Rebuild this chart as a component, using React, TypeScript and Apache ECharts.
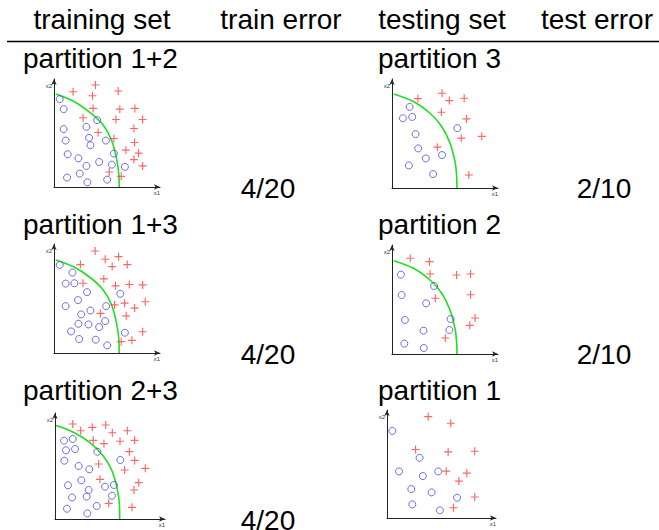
import React, { useEffect, useRef } from "react";
import * as echarts from "echarts";

// ---------- table texts ----------
const headers = ["training set", "train error", "testing set", "test error"];
const trainSets = ["partition 1+2", "partition 1+3", "partition 2+3"];
const testSets = ["partition 3", "partition 2", "partition 1"];
const trainErrors = ["4/20", "4/20", "4/20"];
const testErrors = ["2/10", "2/10"];
const axisNames = ["x1", "x2"];

// ---------- plot 1 (train: partition 1+2) ----------
const p1Circles = [
  [0.54, 8.14], [0.91, 7.21], [4.07, 6.19], [3.06, 5.57], [0.91, 5.36],
  [1.1, 4.3], [3.31, 4.55], [3.44, 3.87], [4.89, 4.3], [5.65, 3.1],
  [1.29, 3.03], [2.3, 2.66], [3.06, 1.95], [4.26, 2.32], [5.46, 2.07],
  [6.69, 1.86], [1.23, 0.87], [2.43, 1.24], [3.15, 0.43], [5.02, 0.68],
];
const p1Crosses = [
  [3.91, 9.44], [1.8, 8.82], [3.63, 8.45], [6.06, 8.89], [3.69, 7.28],
  [6.21, 7.21], [7.63, 7.28], [2.74, 6.41], [5.84, 6.25], [8.36, 6.25],
  [4.16, 5.05], [7.54, 5.42], [5.65, 4.49], [7.6, 4.12], [6.78, 3.41],
  [7.98, 3.13], [7.54, 2.54], [8.36, 1.95], [5.21, 1.39], [6.34, 0.99],
];
const p1Boundary = [
  [0.16, 8.61], [1.8, 7.96], [3.38, 6.9], [4.64, 5.73], [5.43, 4.33],
  [5.9, 2.63], [6.12, 1.08], [6.15, 0],
];

// ---------- plot 2 (test: partition 3) ----------
const p2Circles = [
  [1.66, 7.44], [1.03, 6.4], [1.91, 6.52], [2.22, 4.94], [6.16, 5.49],
  [2.47, 3.63], [4.72, 3.02], [3.19, 2.71], [1.59, 2.07], [3.88, 1.28],
];
const p2Crosses = [
  [2.44, 8.2], [4.72, 8.69], [5.41, 8.02], [6.81, 8.23], [4.66, 6.95],
  [7.03, 6.34], [6.53, 4.57], [8.47, 4.73], [4.28, 3.75], [7.25, 1.19],
];
const p2Boundary = [
  [0.16, 8.63], [2.03, 7.93], [3.59, 6.86], [4.69, 5.64], [5.47, 4.12],
  [5.94, 2.44], [6.09, 1.22], [6.13, 0],
];

// ---------- plot 3 (train: partition 1+3) ----------
const p3Circles = [
  [0.54, 8.08], [1.74, 7.38], [1.1, 6.37], [1.92, 6.4], [3.12, 5.58],
  [6.25, 5.43], [2.27, 4.85], [1.1, 4.3], [3.44, 3.9], [4.92, 4.3],
  [2.56, 3.54], [4.83, 2.93], [2.3, 2.68], [3.25, 2.62], [4.26, 2.38],
  [1.61, 1.98], [6.69, 1.86], [2.37, 1.28], [3.94, 1.22], [5.02, 0.7],
];
const p3Crosses = [
  [3.88, 9.36], [4.83, 8.6], [6.09, 8.84], [2.49, 8.11], [5.49, 7.93],
  [6.91, 8.11], [4.7, 6.8], [2.74, 6.4], [5.8, 6.16], [7.1, 6.28],
  [8.36, 6.25], [5.71, 4.42], [6.66, 4.57], [8.61, 4.7], [4.38, 3.63],
  [7.6, 4.12], [6.81, 3.41], [8.36, 1.95], [6.34, 1.04], [7.35, 1.16],
];
const p3Boundary = [
  [0.16, 8.54], [1.8, 7.93], [3.38, 6.95], [4.64, 5.79], [5.43, 4.42],
  [5.9, 2.74], [6.12, 1.22], [6.15, 0],
];

// ---------- plot 4 (test: partition 2) ----------
const p4Circles = [
  [0.84, 7.28], [3.97, 6.24], [0.91, 5.41], [3.22, 4.65], [1.22, 3.12],
  [5.53, 3.21], [2.97, 2.14], [5.41, 2.2], [1.16, 0.95], [3.0, 0.55],
];
const p4Crosses = [
  [1.72, 8.78], [3.53, 8.47], [3.59, 7.34], [6.09, 7.25], [7.41, 7.34],
  [4.09, 5.11], [7.41, 5.44], [7.84, 3.3], [7.34, 2.63], [5.03, 1.47],
];
const p4Boundary = [
  [0.16, 8.56], [2.03, 7.86], [3.59, 6.79], [4.69, 5.57], [5.47, 4.04],
  [5.94, 2.35], [6.09, 1.13], [6.13, 0],
];

// ---------- plot 5 (train: partition 2+3) ----------
const p5Circles = [
  [0.82, 7.39], [1.61, 7.55], [1.0, 6.48], [1.82, 6.6], [3.85, 6.35],
  [0.85, 5.5], [5.94, 5.57], [2.15, 5.0], [3.12, 4.69], [2.39, 3.65],
  [1.18, 3.18], [3.06, 2.74], [4.55, 3.05], [5.36, 3.21], [1.55, 2.03],
  [2.88, 2.11], [5.18, 2.2], [1.09, 0.97], [3.79, 1.23], [2.94, 0.53],
];
const p5Crosses = [
  [1.61, 8.96], [3.39, 8.65], [4.61, 8.87], [2.33, 8.33], [5.21, 8.14],
  [6.58, 8.33], [3.48, 7.42], [4.45, 7.11], [5.91, 7.33], [7.24, 7.42],
  [6.76, 6.35], [7.24, 5.53], [3.97, 5.19], [6.33, 4.62], [8.21, 4.78],
  [4.09, 3.74], [7.61, 3.43], [7.18, 2.74], [4.88, 1.48], [7.0, 1.1],
];
const p5Boundary = [
  [0.09, 8.81], [1.67, 8.18], [3.18, 7.2], [4.39, 5.94], [5.15, 4.62],
  [5.61, 3.05], [5.85, 1.48], [5.88, 0],
];

// ---------- plot 6 (test: partition 1) ----------
const p6Circles = [
  [0.49, 8.06], [2.99, 5.57], [1.1, 4.31], [4.7, 4.31], [3.29, 3.88],
  [2.23, 2.68], [4.09, 2.37], [6.43, 1.88], [2.32, 1.26], [4.85, 0.71],
];
const p6Crosses = [
  [3.78, 9.38], [5.85, 8.77], [2.62, 6.34], [5.61, 6.12], [8.05, 6.18],
  [5.43, 4.34], [7.32, 4.15], [6.59, 3.42], [8.05, 1.94], [6.1, 0.95],
];

const plots = [
  { circles: p1Circles, crosses: p1Crosses, boundary: p1Boundary },
  { circles: p2Circles, crosses: p2Crosses, boundary: p2Boundary },
  { circles: p3Circles, crosses: p3Crosses, boundary: p3Boundary },
  { circles: p4Circles, crosses: p4Crosses, boundary: p4Boundary },
  { circles: p5Circles, crosses: p5Crosses, boundary: p5Boundary },
  { circles: p6Circles, crosses: p6Crosses, boundary: null as number[][] | null },
];

// layout of the six small plots (px)
const gridBoxes = [
  { left: 54, top: 79, width: 106, height: 108 },
  { left: 392, top: 79, width: 106, height: 109 },
  { left: 54, top: 244, width: 106, height: 109 },
  { left: 392, top: 245, width: 106, height: 109 },
  { left: 55, top: 413, width: 110, height: 106 },
  { left: 387, top: 410, width: 109, height: 108 },
];

const FONT = "'Liberation Sans', Arial, Helvetica, sans-serif";
const PLUS = "path://M3,0h1v3h3v1h-3v3h-1v-3h-3v-1h3z";

export default function App() {
  const ref = useRef<HTMLDivElement>(null);

  useEffect(() => {
    if (!ref.current) return;
    const chart = echarts.init(ref.current, null, { renderer: "svg" });

    const grids = gridBoxes.map((b) => ({ ...b, containLabel: false }));
    const axisBase = {
      type: "value" as const,
      min: 0,
      max: 10,
      axisTick: { show: false },
      axisLabel: { show: false },
      splitLine: { show: false },
    };
    const xAxes = gridBoxes.map((_, i) => ({
      ...axisBase,
      gridIndex: i,
      name: axisNames[0],
      nameLocation: "end",
      nameGap: 0,
      nameTextStyle: {
        fontSize: 6,
        color: "#333",
        fontFamily: FONT,
        align: "right",
        verticalAlign: "top",
        padding: [3, 0, 0, 0],
      },
      axisLine: {
        show: true,
        onZero: false,
        symbol: ["none", "arrow"],
        symbolSize: [4, 6],
        lineStyle: { color: "#222", width: 1 },
      },
    }));
    const yAxes = gridBoxes.map((_, i) => ({
      ...axisBase,
      gridIndex: i,
      name: axisNames[1],
      nameLocation: "end",
      nameGap: -4,
      nameTextStyle: {
        fontSize: 6,
        color: "#333",
        fontFamily: FONT,
        align: "right",
        verticalAlign: "top",
        padding: [0, 2, 0, 0],
      },
      axisLine: {
        show: true,
        onZero: false,
        symbol: ["none", "arrow"],
        symbolSize: [4, 6],
        lineStyle: { color: "#222", width: 1 },
      },
    }));

    const series: any[] = [];
    plots.forEach((p, i) => {
      if (p.boundary) {
        series.push({
          type: "line",
          xAxisIndex: i,
          yAxisIndex: i,
          data: p.boundary,
          smooth: 0.35,
          showSymbol: false,
          symbol: "none",
          clip: false,
          lineStyle: { color: "#22dd22", width: 1.6 },
          z: 1,
        });
      }
      series.push({
        type: "scatter",
        xAxisIndex: i,
        yAxisIndex: i,
        data: p.circles,
        symbol: "circle",
        symbolSize: 7,
        clip: false,
        itemStyle: { color: "rgba(0,0,0,0)", borderColor: "#4b4bd8", borderWidth: 1 },
        z: 3,
      });
      series.push({
        type: "scatter",
        xAxisIndex: i,
        yAxisIndex: i,
        data: p.crosses,
        symbol: PLUS,
        symbolSize: 8,
        clip: false,
        itemStyle: { color: "#ff4040" },
        z: 3,
      });
    });

    const txt = (text: string, x: number, y: number, align: string) => ({
      type: "text",
      x,
      y,
      style: {
        text,
        fontSize: 28,
        fontFamily: FONT,
        fill: "#000",
        textAlign: align,
        textVerticalAlign: "middle",
        verticalAlign: "middle",
      },
    });

    const headerX = [102, 281, 442, 597];
    const rowY = [58, 224, 390];
    const errY = [188, 354, 520];
    const graphic: any[] = [];
    headers.forEach((h, i) => graphic.push(txt(h, headerX[i], 19, "center")));
    graphic.push({
      type: "line",
      shape: { x1: 7, y1: 41.5, x2: 659, y2: 41.5 },
      style: { stroke: "#000", lineWidth: 1.3 },
    });
    trainSets.forEach((t, i) => graphic.push(txt(t, 23, rowY[i], "left")));
    testSets.forEach((t, i) => graphic.push(txt(t, 378, rowY[i], "left")));
    trainErrors.forEach((t, i) => graphic.push(txt(t, 268, errY[i], "center")));
    testErrors.forEach((t, i) => graphic.push(txt(t, 604, errY[i], "center")));

    chart.setOption({
      animation: false,
      backgroundColor: "#fff",
      grid: grids,
      xAxis: xAxes,
      yAxis: yAxes,
      series,
      graphic,
    });

    return () => chart.dispose();
  }, []);

  return (
    <div
      ref={ref}
      style={{ position: "fixed", left: 0, top: 0, width: 659, height: 530 }}
    />
  );
}
